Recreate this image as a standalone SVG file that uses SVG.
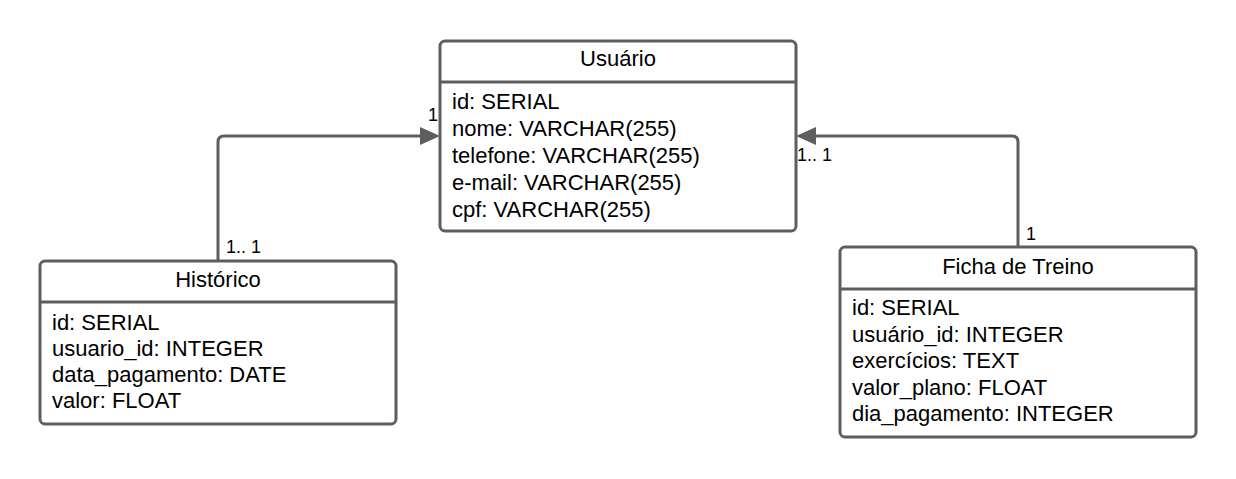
<svg xmlns="http://www.w3.org/2000/svg" width="1236" height="479" viewBox="0 0 1236 479">
<style>
.box{fill:#fff;stroke:#5e5e5e;stroke-width:3}
.sep{stroke:#5e5e5e;stroke-width:3}
.t{font-family:"Liberation Sans",Arial,sans-serif;font-size:22px;fill:#000}
.title{text-anchor:middle}
.lbl{font-family:"Liberation Sans",Arial,sans-serif;font-size:18px;fill:#000}
.conn{fill:none;stroke:#5e5e5e;stroke-width:3}
</style>
<rect width="1236" height="479" fill="#fff"/>
<g id="connectors">
<path class="conn" d="M218,260 V142 Q218,136 224,136 H430" />
<path d="M420,127 L440,136 L420,145 Z" fill="#5e5e5e"/>
<path class="conn" d="M1018,247 V142 Q1018,136 1012,136 H806" />
<path d="M816,127 L796,136 L816,145 Z" fill="#5e5e5e"/>
<text class="lbl" x="428" y="121">1</text>
<text class="lbl" x="226" y="253">1.. 1</text>
<text class="lbl" x="797" y="161">1.. 1</text>
<text class="lbl" x="1026" y="240">1</text>
</g>
<g id="usuario">
<rect class="box" x="440" y="41" width="356" height="190" rx="5"/>
<line class="sep" x1="440" y1="82" x2="796" y2="82"/>
<text class="t title" x="618" y="66">Usuário</text>
<text class="t" x="452" y="109">id: SERIAL</text>
<text class="t" x="452" y="136">nome: VARCHAR(255)</text>
<text class="t" x="452" y="163">telefone: VARCHAR(255)</text>
<text class="t" x="452" y="190">e-mail: VARCHAR(255)</text>
<text class="t" x="452" y="217">cpf: VARCHAR(255)</text>
</g>
<g id="historico">
<rect class="box" x="40" y="261" width="356" height="163" rx="5"/>
<line class="sep" x1="40" y1="302" x2="396" y2="302"/>
<text class="t title" x="218" y="287">Histórico</text>
<text class="t" x="52" y="330">id: SERIAL</text>
<text class="t" x="52" y="356">usuario_id: INTEGER</text>
<text class="t" x="52" y="382">data_pagamento: DATE</text>
<text class="t" x="52" y="408">valor: FLOAT</text>
</g>
<g id="ficha">
<rect class="box" x="840" y="247" width="356" height="190" rx="5"/>
<line class="sep" x1="840" y1="289" x2="1196" y2="289"/>
<text class="t title" x="1018" y="274">Ficha de Treino</text>
<text class="t" x="852" y="315">id: SERIAL</text>
<text class="t" x="852" y="342">usuário_id: INTEGER</text>
<text class="t" x="852" y="368">exercícios: TEXT</text>
<text class="t" x="852" y="395">valor_plano: FLOAT</text>
<text class="t" x="852" y="421">dia_pagamento: INTEGER</text>
</g>
</svg>
